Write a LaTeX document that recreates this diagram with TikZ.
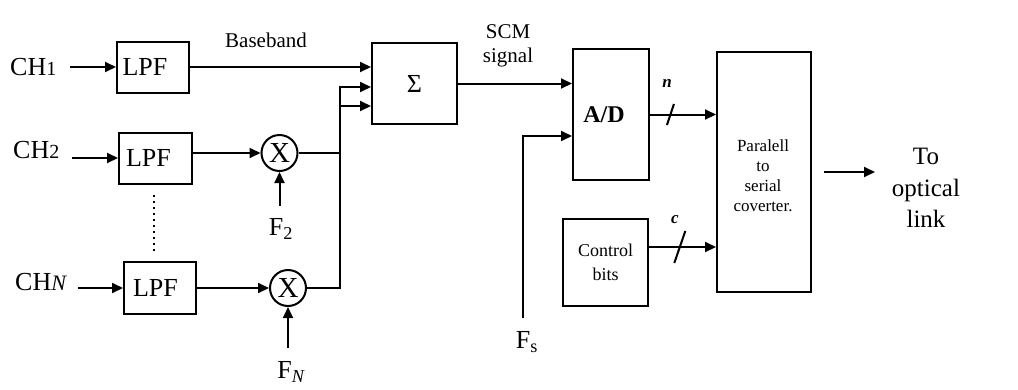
\documentclass[tikz,border=0pt]{standalone}
\usepackage{fontspec}
\setmainfont{Liberation Serif}
\usetikzlibrary{arrows.meta}
\tikzset{
 wire/.style={line width=2pt},
 arr/.style={line width=2pt,-{Triangle[length=11pt,width=10pt]}},
 blk/.style={draw, line width=2pt, inner sep=0pt, font=\fontsize{26}{30}\selectfont},
 mix/.style={draw, circle, line width=2pt, inner sep=0pt, minimum size=36pt, font=\fontsize{29}{30}\selectfont},
 big/.style={font=\fontsize{26}{30}\selectfont, inner sep=0pt},
 mid/.style={font=\fontsize{21}{24}\selectfont, inner sep=0pt, align=center},
 small/.style={font=\fontsize{17}{20}\selectfont, inner sep=0pt, align=center},
 buslbl/.style={font=\fontsize{17}{20}\selectfont\bfseries\itshape, inner sep=0pt},
}
\begin{document}
\begin{tikzpicture}[x=1pt,y=-1pt]
\useasboundingbox (0,0) rectangle (1018,389);

% channel 1
\node[big, anchor=west] (ch1) at (10,67) {CH{\fontsize{20}{20}\selectfont 1}};
\node[blk, minimum width=72pt, minimum height=51pt] (lpf1) at (153,67) {LPF\hspace*{16pt}};
\draw[arr] ([xshift=-46pt]lpf1.west) -- (lpf1.west);
\node[mid] (bb) at (266,40) {Baseband};

% summer
\node[blk, minimum width=85pt, minimum height=81pt] (sum) at (414.5,83.5) {Σ};
\coordinate (in2) at ([yshift=-3.5pt]sum.west);
\coordinate (in3) at ([yshift=-22.5pt]sum.west);
\draw[arr] (lpf1.east) -- (lpf1.east -| sum.west);

% channel 2
\node[big, anchor=west] (ch2) at (13,150) {CH{\fontsize{20}{20}\selectfont 2}};
\node[blk, minimum width=73pt, minimum height=51pt] (lpf2) at (155.5,158) {LPF\hspace*{14pt}};
\draw[arr] ([xshift=-46pt]lpf2.west) -- (lpf2.west);
\node[mix] (mix2) at (279.5,153) {X};
\draw[arr] (lpf2.east |- mix2.west) -- (mix2.west);
\draw[arr] (mix2.east) -- ++(41,0) |- (in2);
\coordinate (f2in) at (279.5,206);
\draw[arr] (f2in) -- (mix2.south);
\node[big] (f2) at (281,229) {F\textsubscript{2}};

% dots
\draw[wire, dash pattern=on 2pt off 4pt] (154,195) -- (154,252);

% channel N
\node[big, anchor=west] (chN) at (15,282) {CH{\fontsize{22}{22}\selectfont\itshape N}};
\node[blk, minimum width=72pt, minimum height=52pt] (lpfN) at (160,288) {LPF\hspace*{9pt}};
\draw[arr] ([xshift=-45pt]lpfN.west) -- (lpfN.west);
\node[mix] (mixN) at (288,288) {X};
\draw[arr] (lpfN.east) -- (mixN.west);
\draw[arr] (mixN.east) -- ++(33,0) |- (in3);
\coordinate (fNin) at (288,348);
\draw[arr] (fNin) -- (mixN.south);
\node[big] (fN) at (291,372) {F\textsubscript{\itshape N}};

% A/D
\node[mid] (scm) at (508,46) {SCM\\signal};
\node[blk, minimum width=76pt, minimum height=131pt, font=\fontsize{24}{28}\selectfont\bfseries] (ad) at (611,114.5) {A/D\hspace*{14pt}};
\draw[arr] (sum.east) -- (sum.east -| ad.west);
\coordinate (fsin) at (523,318);
\draw[arr] (fsin) |- ([yshift=-21.5pt]ad.west);
\node[big] (fs) at (527,342) {F\textsubscript{s}};

% parallel to serial
\node[blk, minimum width=94pt, minimum height=240pt] (p2s) at (764,172) {};
\node[small] (p2st) at (763,176) {Paralell\\to\\serial\\coverter.};
\draw[arr] (ad.east) -- (ad.east -| p2s.west);
\path (ad.east) -- (ad.east -| p2s.west) coordinate[pos=0.31] (ns);
\draw[wire] ([shift={(-3.5,10.5)}]ns) -- ([shift={(3.5,-10.5)}]ns);
\node[buslbl] (nl) at (667,83) {n};

% control bits
\node[blk, minimum width=85pt, minimum height=87pt, font=\fontsize{18}{24}\selectfont, align=center] (ctrl) at (605.5,262.5) {Control\\bits};
\coordinate (cst) at ([yshift=15.5pt]ctrl.east);
\draw[arr] (cst) -- (cst -| p2s.west);
\path (cst) -- (cst -| p2s.west) coordinate[pos=0.46] (cs);
\draw[wire] ([shift={(-5.5,16)}]cs) -- ([shift={(5.5,-16)}]cs);
\node[buslbl] (cl) at (675,220) {c};

% output
\coordinate (out) at (875,172);
\draw[arr] ([xshift=12pt]p2s.east) -- (out);
\node[big, align=center, font=\fontsize{25}{31.5}\selectfont] (tol) at (926,188) {To\\optical\\link};
\end{tikzpicture}
\end{document}
